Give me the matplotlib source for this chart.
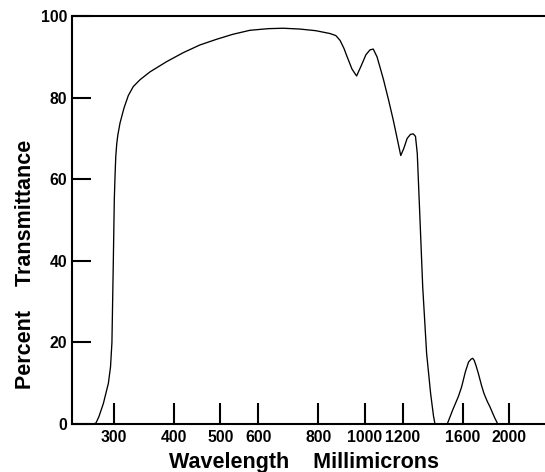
import matplotlib
matplotlib.use("Agg")
import matplotlib.pyplot as plt
from matplotlib.ticker import FixedLocator, NullLocator, FixedFormatter

# Data (wavelength in millimicrons, percent transmittance)
wavelength = [250, 270, 275, 279, 285, 292, 295, 297, 299, 300.4, 301.5, 302.5,
              303.9, 305.5, 308.8, 314.8, 321.3, 329, 340, 356.5, 386, 418, 453,
              491, 530, 576, 630, 676, 732, 790, 846, 870, 888, 905, 917, 940,
              961, 980, 1005, 1025, 1041, 1060, 1075, 1093, 1120, 1146, 1170,
              1188, 1205, 1225, 1245, 1262, 1275, 1286, 1303, 1320, 1345, 1371,
              1390, 1400, 1485, 1525, 1566, 1591, 1620, 1645, 1665, 1678, 1690,
              1705, 1724, 1750, 1771, 1800, 1823, 1860, 1892, 2374]
transmittance = [0, 0, 0.2, 1.8, 5, 10, 14, 20, 40, 55, 61, 65.5,
                 68.6, 70.8, 73.8, 77.5, 80.5, 82.7, 84.4, 86.3, 88.8, 91.0, 92.9,
                 94.3, 95.5, 96.5, 96.9, 97.0, 96.8, 96.4, 95.7, 95.2, 94.0, 92.0, 90.2, 87.0,
                 85.3, 87.5, 90.5, 91.7, 91.9, 90.0, 87.5, 84.5, 79.5, 74.5, 69.5,
                 65.8, 67.5, 70.0, 71.0, 71.1, 70.5, 66.3, 50.0, 33.6, 17.3, 7.5,
                 2.0, 0, 0, 3.5, 6.7, 9.1, 12.8, 15.2, 15.9, 16.1, 15.6,
                 14.3, 12.4, 9.5, 7.5, 5.5, 4.2, 1.8, 0, 0]

x_ticks = [300, 400, 500, 600, 800, 1000, 1200, 1600, 2000]
x_tick_labels = ["300", "400", "500", "600", "800", "1000", "1200", "1600", "2000"]
y_ticks = [0, 20, 40, 60, 80, 100]
y_tick_labels = ["0", "20", "40", "60", "80", "100"]

plt.rcParams['font.family'] = ['Liberation Sans', 'DejaVu Sans']
plt.rcParams['font.weight'] = 'bold'

W, H = 545, 472
fig = plt.figure(figsize=(W / 100, H / 100), dpi=100)
ax = fig.add_axes([72 / W, 1 - 424 / H, 473 / W, 408 / H])

ax.plot(wavelength, transmittance, color='black', linewidth=0.95)

ax.set_xscale('log')
ax.set_xlim(245.2, 2374)
ax.set_ylim(0, 100)

ax.xaxis.set_major_locator(FixedLocator(x_ticks))
ax.xaxis.set_major_formatter(FixedFormatter(x_tick_labels))
ax.xaxis.set_minor_locator(NullLocator())
ax.yaxis.set_major_locator(FixedLocator(y_ticks))
ax.yaxis.set_major_formatter(FixedFormatter(y_tick_labels))
ax.yaxis.set_minor_locator(NullLocator())

ax.tick_params(axis='x', direction='in', length=15, width=1.5, pad=4.5,
               labelsize=11.3, colors='black')
ax.tick_params(axis='y', direction='in', length=13.7, width=1.5, pad=3.5,
               labelsize=11.3, colors='black')
for lab in ax.get_xticklabels() + ax.get_yticklabels():
    lab.set_fontweight('bold')

for s in ['left', 'top', 'bottom']:
    ax.spines[s].set_linewidth(1.5)
    ax.spines[s].set_color('black')
ax.spines['right'].set_visible(False)

ax.set_xlabel("Wavelength    Millimicrons", fontsize=15.5, fontweight='bold')
ax.xaxis.set_label_coords((304 - 72) / 473, (424 - 467.7) / 408)
ax.xaxis.label.set_va('baseline')

ax.set_ylabel("Percent    Transmittance", fontsize=15.5, fontweight='bold')
ax.yaxis.set_label_coords((36 - 72) / 473, (424 - 264.5) / 408)

fig.savefig("out.png", dpi=100)
